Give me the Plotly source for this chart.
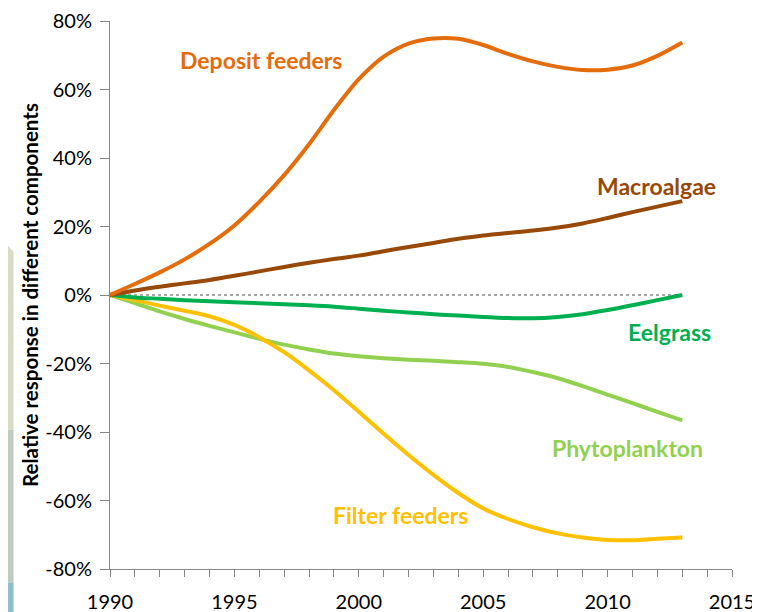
import plotly.graph_objects as go

years = list(range(1990, 2014))

deposit_feeders = [0, 3.2, 6.6, 10.4, 14.9, 20.3, 27.2, 35.0, 44.0, 54.0, 63.0, 69.6,
                   73.4, 74.9, 74.8, 73.0, 70.4, 68.2, 66.6, 65.7, 65.8, 67.0, 69.8, 73.7]
macroalgae = [0, 1.3, 2.4, 3.4, 4.4, 5.6, 6.9, 8.2, 9.4, 10.5, 11.5, 12.8,
              14.0, 15.2, 16.4, 17.4, 18.1, 18.8, 19.7, 20.9, 22.5, 24.2, 25.8, 27.4]
eelgrass = [0, -0.7, -1.1, -1.5, -1.8, -2.1, -2.4, -2.7, -3.0, -3.4, -4.0, -4.6,
            -5.1, -5.6, -6.0, -6.4, -6.7, -6.8, -6.4, -5.6, -4.4, -3.0, -1.5, 0]
phytoplankton = [0, -2.4, -4.8, -7.0, -9.0, -10.9, -12.8, -14.5, -15.9, -17.1, -17.9, -18.5,
                 -18.9, -19.2, -19.6, -20.1, -21.0, -22.5, -24.3, -26.6, -29.1, -31.6, -34.1, -36.6]
filter_feeders = [0, -1.5, -3.1, -4.6, -6.2, -8.7, -12.3, -16.7, -22.0, -27.8, -34.1, -40.5,
                  -46.7, -52.5, -57.8, -62.3, -65.4, -67.8, -69.6, -70.8, -71.5, -71.6, -71.2, -70.8]
zero_line = [0] * len(years)

y_ticks = [-80, -60, -40, -20, 0, 20, 40, 60, 80]
y_tick_labels = ["-80%", "-60%", "-40%", "-20%", "0%", "20%", "40%", "60%", "80%"]
x_ticks = [1990, 1995, 2000, 2005, 2010, 2015]

series = [
    ("Phytoplankton", phytoplankton, "#92D050", 2010.78, -44.8),
    ("Filter feeders", filter_feeders, "#FFC000", 2001.66, -64.2),
    ("Eelgrass", eelgrass, "#00B050", 2012.47, -10.8),
    ("Macroalgae", macroalgae, "#984807", 2011.95, 31.8),
    ("Deposit feeders", deposit_feeders, "#E46C0A", 1996.08, 68.7),
]

fig = go.Figure()
fig.add_trace(go.Scatter(x=years, y=zero_line, mode="lines",
                         line=dict(color="#A6A6A6", width=2, dash="dot"),
                         showlegend=False, hoverinfo="skip"))
for name, vals, color, lx, ly in series:
    fig.add_trace(go.Scatter(x=years, y=vals, mode="lines", name=name,
                             line=dict(color=color, width=4, shape="spline", smoothing=0.8),
                             showlegend=False))
    fig.add_annotation(x=lx, y=ly, xref="x", yref="y", text="<b>%s</b>" % name,
                       showarrow=False, font=dict(family="Lato", size=23, color=color),
                       xanchor="center", yanchor="middle")

# page is offset by the default 8px body margin
OFF = 8
FW, FH = 760 - OFF, 612 - OFF
L, R, T, B = 109.5 - OFF, 731.7 - OFF, 21 - OFF, 569.5 - OFF
W, H = R - L, B - T
def px(x):
    return (x - OFF - L) / W
def py(y):
    return (B - (y - OFF)) / H

shapes = [
    dict(type="path", xref="paper", yref="paper", layer="below", line=dict(width=0),
         fillcolor="#D6DDC2",
         path="M %f %f L %f %f L %f %f L %f %f Z" % (px(0), py(238), px(13), py(252), px(13), py(430), px(0), py(430))),
    dict(type="rect", xref="paper", yref="paper", layer="below", line=dict(width=0),
         fillcolor="#BFCBBF", x0=px(0), x1=px(13), y0=py(430), y1=py(583)),
    dict(type="rect", xref="paper", yref="paper", layer="below", line=dict(width=0),
         fillcolor="#8DC0C8", x0=px(0), x1=px(13), y0=py(583), y1=py(620)),
]

fig.update_layout(
    width=FW, height=FH,
    margin=dict(l=L, r=FW - R, t=T, b=FH - B, pad=0, autoexpand=False),
    paper_bgcolor="white", plot_bgcolor="white",
    font=dict(family="Lato", color="black"),
    shapes=shapes,
    xaxis=dict(range=[1990, 2015], tickvals=x_ticks, showgrid=False, zeroline=False,
               automargin=False,
               showline=True, linecolor="#868686", linewidth=1,
               ticks="outside", ticklen=7, tickcolor="#868686", ticklabelstandoff=8,
               minor=dict(dtick=1, ticks="outside", ticklen=7, tickcolor="#868686", showgrid=False),
               tickfont=dict(family="Lato", size=20, color="black")),
    yaxis=dict(range=[-80, 80], tickvals=y_ticks, ticktext=y_tick_labels, showgrid=False,
               automargin=False,
               zeroline=False, showline=True, linecolor="#868686", linewidth=1,
               ticks="outside", ticklen=9, tickcolor="#868686", ticklabelstandoff=4,
               tickfont=dict(family="Lato", size=20, color="black"),
               title=dict(text="<b>Relative response in different components</b>",
                          font=dict(family="Lato", size=20.5, color="black"), standoff=1)),
)

fig.write_html("out.html")
